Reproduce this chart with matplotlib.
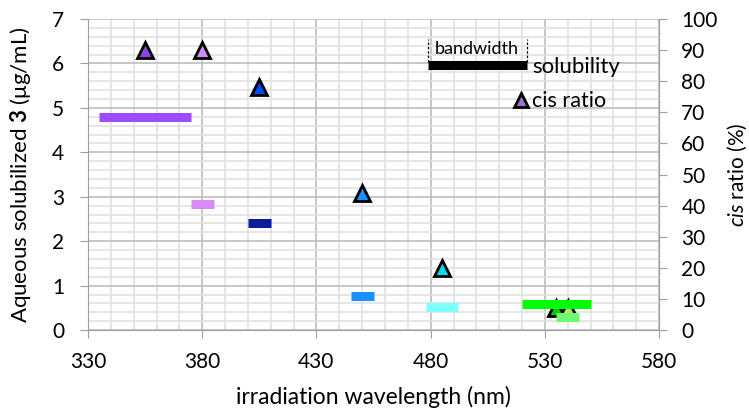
import matplotlib
matplotlib.use("Agg")
import matplotlib.pyplot as plt
from matplotlib.ticker import MultipleLocator

plt.rcParams['font.family'] = ['Lato', 'DejaVu Sans']
plt.rcParams['mathtext.fontset'] = 'custom'
plt.rcParams['mathtext.rm'] = 'Lato'
plt.rcParams['mathtext.bf'] = 'Lato:bold'
plt.rcParams['mathtext.it'] = 'Lato:italic'

# solubility bars: wavelength band (nm) and solubility (ug/mL)
band_start = [335, 375, 400, 445, 478, 520, 535]
band_end = [375, 385, 410, 455, 492, 550, 545]
solubility = [4.8, 2.83, 2.4, 0.77, 0.52, 0.58, 0.3]
bar_colors = ['#9b4dff', '#d98bf5', '#0a1e9c', '#1a8fff', '#80ffff', '#00ff00', '#70fa70']

# cis ratio triangles
cis_wavelength = [355, 380, 405, 450, 485, 535, 540]
cis_ratio = [90, 90, 78, 44, 20, 7, 7]
tri_colors = ['#8e44e0', '#d08cf0', '#0047ff', '#1a8fff', '#00dde8', '#00cc00', '#b8e06a']

x_ticks = [330, 380, 430, 480, 530, 580]

fig, ax = plt.subplots(figsize=(7.49, 4.09), dpi=100)
fig.subplots_adjust(left=0.1175, right=0.88, top=0.9535, bottom=0.193)

ax.set_xlim(330, 580)
ax.set_ylim(0, 7)
ax.set_xticks(x_ticks)
ax.xaxis.set_minor_locator(MultipleLocator(10))
ax.yaxis.set_major_locator(MultipleLocator(1))
ax.yaxis.set_minor_locator(MultipleLocator(0.2))
ax.grid(which='minor', color='#e2e2e2', linewidth=1.2)
ax.grid(which='major', color='#bdbdbd', linewidth=1.2)
ax.set_axisbelow(True)
ax.tick_params(which='minor', length=0)
ax.tick_params(which='major', direction='out', length=6, color='#a0a0a0',
               labelsize=15, pad=11)
ax.tick_params(axis='x', pad=10)
ax.spines['top'].set_visible(False)
for side in ['left', 'bottom', 'right']:
    ax.spines[side].set_color('#a0a0a0')

ax.set_xlabel('irradiation wavelength (nm)', fontsize=16.5)
ax.xaxis.set_label_coords(0.5, -0.178)
ax.set_ylabel(r'Aqueous solubilized $\mathbf{3}$ (μg/mL)', fontsize=16)
ax.yaxis.set_label_coords(-0.096, 0.5)

# right axis: cis ratio
ax2 = ax.twinx()
ax2.set_ylim(0, 100)
ax2.yaxis.set_major_locator(MultipleLocator(10))
ax2.tick_params(direction='out', length=6, color='#a0a0a0', labelsize=15, pad=10)
for side in ['top', 'left', 'bottom']:
    ax2.spines[side].set_visible(False)
ax2.spines['right'].set_color('#a0a0a0')
ax2.set_ylabel(r'$\it{cis}$ ratio (%)', fontsize=15, rotation=90)
ax2.yaxis.set_label_coords(1.117, 0.5)
for x, y, c in zip(cis_wavelength, cis_ratio, tri_colors):
    ax2.plot(x, y, marker='^', markersize=12, color=c,
             markeredgecolor='black', markeredgewidth=2, linestyle='none')

# bars on top of the triangles
ax3 = ax.twinx()
ax3.set_ylim(0, 7)
ax3.axis('off')
ax3.hlines(solubility, band_start, band_end, colors=bar_colors, linewidth=6.5)

# hand-made legend
ax3.plot([0.595, 0.768], [0.852, 0.852], color='black', linewidth=6.5,
         transform=ax.transAxes, solid_capstyle='butt')
for xl in [0.595, 0.768]:
    ax3.plot([xl, xl], [0.862, 0.935], color='black', linewidth=0.9,
             linestyle=(0, (2, 1.5)), transform=ax.transAxes)
ax3.text(0.6815, 0.905, 'bandwidth', transform=ax.transAxes, ha='center',
         va='center', fontsize=13)
ax3.text(0.778, 0.846, 'solubility', transform=ax.transAxes, ha='left',
         va='center', fontsize=16)
ax3.plot(0.758, 0.74, marker='^', markersize=10, color='#9a78c0',
         markeredgecolor='black', markeredgewidth=2, transform=ax.transAxes)
ax3.text(0.778, 0.735, 'cis ratio', transform=ax.transAxes, ha='left',
         va='center', fontsize=15.5)

fig.savefig('out.png', dpi=100)
